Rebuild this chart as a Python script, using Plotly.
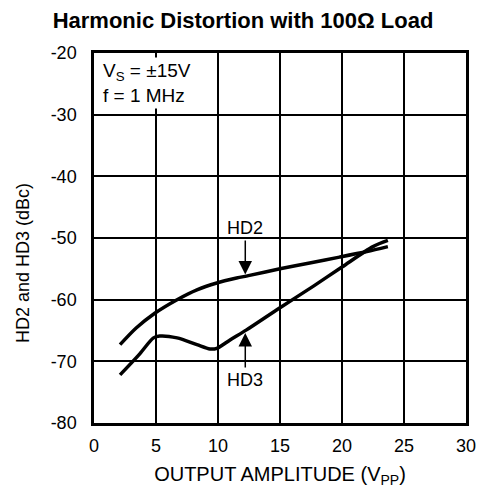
import plotly.graph_objects as go

hd2_x = [2.1, 3.4, 4.9, 6.7, 8.3, 9.9, 11.5, 12.45, 15.0, 17.5, 19.8, 22.0, 23.7]
hd2_y = [-67.3, -64.6, -62.2, -60.0, -58.4, -57.3, -56.5, -56.1, -55.0, -54.0, -53.1, -52.2, -51.4]
hd3_x = [2.1, 3.6, 4.8, 5.3, 6.7, 8.3, 9.35, 9.9, 11.0, 12.3, 15.0, 17.7, 20.0, 22.5, 23.7]
hd3_y = [-72.2, -69.0, -66.2, -65.9, -66.2, -67.3, -68.0, -67.9, -66.5, -64.9, -61.3, -57.8, -54.7, -51.4, -50.4]

x_ticks = [0, 5, 10, 15, 20, 25, 30]
y_ticks = [-20, -30, -40, -50, -60, -70, -80]

FONT = "Liberation Sans, Arial, Helvetica, sans-serif"

# page body has an 8px margin, so the figure is drawn 8px smaller and offset
W, H = 479, 490

fig = go.Figure()
fig.add_trace(go.Scatter(x=hd2_x, y=hd2_y, mode="lines", name="HD2",
                         line=dict(color="black", width=3.5, shape="spline", smoothing=0.8)))
fig.add_trace(go.Scatter(x=hd3_x, y=hd3_y, mode="lines", name="HD3",
                         line=dict(color="black", width=3.5, shape="spline", smoothing=0.8)))

fig.update_layout(
    width=W, height=H,
    margin=dict(l=86, r=21, t=45, b=75, autoexpand=False),
    paper_bgcolor="white", plot_bgcolor="white",
    showlegend=False,
    font=dict(family=FONT, size=18, color="black"),
    title=dict(text="<b>Harmonic Distortion with 100Ω Load</b>",
               x=(243 - 8) / W, xref="container", xanchor="center",
               y=1 - 12 / H, yref="container", yanchor="middle",
               font=dict(size=22, family=FONT, color="black")),
    xaxis=dict(range=[0, 30], tickvals=x_ticks, ticktext=[str(v) for v in x_ticks],
               showgrid=True, gridcolor="black", gridwidth=1.5, zeroline=False,
               showline=True, linecolor="black", linewidth=2.5, mirror=True,
               ticks="", ticklabelstandoff=5, automargin=False,
               tickfont=dict(size=18),
               title=dict(text="OUTPUT AMPLITUDE (V<sub>PP</sub>)", standoff=12,
                          font=dict(size=20))),
    yaxis=dict(range=[-80, -20], tickvals=y_ticks, ticktext=[str(v) for v in y_ticks],
               showgrid=True, gridcolor="black", gridwidth=1.5, zeroline=False,
               showline=True, linecolor="black", linewidth=2.5, mirror=True,
               ticks="", ticklabelstandoff=11, automargin=False,
               tickfont=dict(size=18)),
)

# y-axis title (positioned below centre like the reference)
fig.add_annotation(text="HD2 and HD3 (dBc)", textangle=-90, xref="paper", yref="paper",
                   x=-71 / 372, y=(423 - 263) / 370, xanchor="center", yanchor="middle",
                   showarrow=False, font=dict(size=18))

# conditions box
fig.add_annotation(text="V<sub>S</sub> = ±15V<br>f = 1 MHz", xref="x", yref="y",
                   x=0.45, y=-20.7, xanchor="left", yanchor="top", align="left",
                   showarrow=False, bgcolor="white", font=dict(size=19), borderpad=2)

# HD2 label + arrow
fig.add_annotation(text="HD2", x=12.2, y=-55.9, xref="x", yref="y",
                   ax=12.2, ay=-50.4, axref="x", ayref="y",
                   showarrow=True, arrowhead=2, arrowsize=1.8, arrowwidth=1.5,
                   arrowcolor="black", yanchor="bottom", standoff=0, font=dict(size=18))
# HD3 label + arrow
fig.add_annotation(text="HD3", x=12.2, y=-65.4, xref="x", yref="y",
                   ax=12.2, ay=-71.0, axref="x", ayref="y",
                   showarrow=True, arrowhead=2, arrowsize=1.8, arrowwidth=1.5,
                   arrowcolor="black", yanchor="top", standoff=0, font=dict(size=18))

fig.write_html("out.html")
